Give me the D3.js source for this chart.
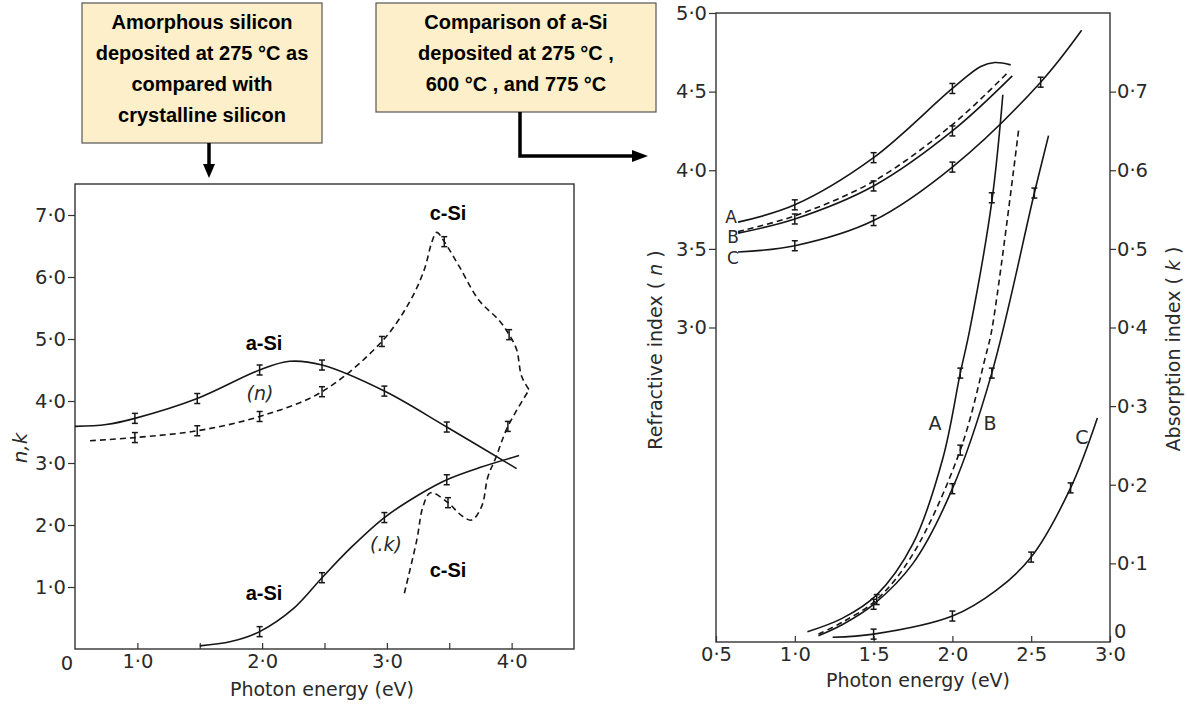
<!DOCTYPE html>
<html>
<head>
<meta charset="utf-8">
<script src="https://cdn.jsdelivr.net/npm/d3@7"></script>
<style>
  body { margin: 0; background: #fff; }
  .tick text { font-family: "DejaVu Sans", sans-serif; font-size: 19.5px; fill: #2a2a2a; }
  .tick line { stroke: #333; stroke-width: 1.2; }
  .lbl { font-family: "Liberation Sans", Arial, sans-serif; font-weight: bold; font-size: 20px; fill: #000; }
  .scan { font-family: "DejaVu Sans", sans-serif; font-size: 19px; fill: #2a2a2a; }
</style>
</head>
<body>
<svg id="fig" width="1187" height="708"></svg>
<script>
// ---- left panel: a-Si (275 C) vs c-Si, n and k ----
const aSiN = [[0.5,3.59],[0.75,3.62],[0.98,3.72],[1.48,4.04],[1.98,4.5],[2.22,4.64],[2.48,4.58],[2.98,4.16],[3.48,3.58],[4.04,2.91]];
const aSiNErr = [[0.98,3.72],[1.48,4.04],[1.98,4.5],[2.48,4.58],[2.98,4.16],[3.48,3.58]];
const cSiN = [[0.62,3.36],[0.98,3.41],[1.48,3.52],[1.98,3.75],[2.48,4.15],[2.96,4.96],[3.18,5.59],[3.3,6.12],[3.36,6.56],[3.4,6.72],[3.46,6.57],[3.58,6.17],[3.74,5.62],[3.9,5.3],[3.98,5.07],[4.04,4.83],[4.08,4.4],[4.14,4.18]];
const cSiNErr = [[0.98,3.41],[1.48,3.52],[1.98,3.75],[2.48,4.15],[2.96,4.96],[3.46,6.57],[3.98,5.07]];
const aSiK = [[1.5,0.05],[1.75,0.12],[1.98,0.28],[2.25,0.65],[2.48,1.15],[2.72,1.65],[2.98,2.12],[3.25,2.48],[3.48,2.73],[3.75,2.93],[4.06,3.12]];
const aSiKErr = [[1.98,0.28],[2.48,1.15],[2.98,2.12],[3.48,2.73]];
const cSiK = [[3.14,0.9],[3.24,1.76],[3.29,2.3],[3.35,2.52],[3.49,2.36],[3.6,2.15],[3.68,2.08],[3.76,2.3],[3.81,2.78],[3.87,3.07],[3.97,3.59],[4.14,4.18]];
const cSiKErr = [[3.49,2.36],[3.97,3.59]];
const leftYTicks = [1,2,3,4,5,6,7];
const leftXTicks = [1,1.5,2,2.5,3,3.5,4];

// ---- right panel: A 275 C, B 600 C, C 775 C (dashed = extra B run) ----
const nA = [[0.64,3.67],[1.0,3.78],[1.5,4.08],[2.0,4.52],[2.18,4.66],[2.27,4.685],[2.37,4.67]];
const nAErr = [[1.0,3.78],[1.5,4.08],[2.0,4.52]];
const nB = [[0.64,3.60],[1.0,3.69],[1.5,3.90],[2.0,4.25],[2.38,4.60]];
const nBErr = [[1.0,3.69],[1.5,3.90],[2.0,4.25]];
const nDash = [[0.64,3.61],[1.0,3.71],[1.5,3.93],[2.0,4.29],[2.36,4.63]];
const nC = [[0.64,3.48],[1.0,3.52],[1.5,3.68],[2.0,4.02],[2.56,4.56],[2.82,4.89]];
const nCErr = [[1.0,3.52],[1.5,3.68],[2.0,4.02],[2.56,4.56]];
const kA = [[1.08,0.013],[1.3,0.03],[1.52,0.06],[1.75,0.125],[1.94,0.234],[2.05,0.342],[2.11,0.397],[2.25,0.56],[2.32,0.696]];
const kAErr = [[2.05,0.342],[2.25,0.565]];
const kDash = [[1.15,0.01],[1.3,0.025],[1.52,0.054],[1.75,0.112],[2.05,0.244],[2.21,0.363],[2.25,0.397],[2.42,0.651]];
const kDashErr = [[1.52,0.054],[2.05,0.244]];
const kB = [[1.15,0.008],[1.3,0.022],[1.5,0.048],[1.75,0.1],[2.0,0.195],[2.25,0.342],[2.52,0.571],[2.61,0.644]];
const kBErr = [[1.5,0.048],[2.0,0.195],[2.25,0.342],[2.52,0.571]];
const kC = [[1.24,0.006],[1.5,0.01],[2.0,0.033],[2.28,0.066],[2.5,0.108],[2.75,0.196],[2.92,0.285]];
const kCErr = [[1.5,0.01],[2.0,0.033],[2.5,0.108],[2.75,0.196]];
const rightXTicks = [0.5,1,1.5,2,2.5,3];
const rightNTicks = [3,3.5,4,4.5,5];
const rightKTicks = [0.1,0.2,0.3,0.4,0.5,0.6,0.7];

const svg = d3.select("#fig");
svg.append("rect").attr("width", 1187).attr("height", 708).attr("fill", "#fff");

const fmt = d => d3.format(".1f")(d).replace(".", "\u00b7");
const ink = "#161616";

function curve(g, data, x, y, dashed) {
  g.append("path")
    .datum(data)
    .attr("fill", "none")
    .attr("stroke", ink)
    .attr("stroke-width", 1.6)
    .attr("stroke-dasharray", dashed ? "6,4" : null)
    .attr("d", d3.line().x(d => x(d[0])).y(d => y(d[1])).curve(d3.curveCatmullRom.alpha(0.5)));
}

function errBars(g, data, x, y) {
  const e = g.append("g").attr("stroke", ink).attr("stroke-width", 1.5);
  data.forEach(d => {
    const cx = x(d[0]), cy = y(d[1]);
    e.append("line").attr("x1", cx).attr("x2", cx).attr("y1", cy - 5).attr("y2", cy + 5);
    e.append("line").attr("x1", cx - 3).attr("x2", cx + 3).attr("y1", cy - 5).attr("y2", cy - 5);
    e.append("line").attr("x1", cx - 3).attr("x2", cx + 3).attr("y1", cy + 5).attr("y2", cy + 5);
  });
}

function frame(g, x, y) {
  const [x0, x1] = x.range(), [y0, y1] = y.range();
  g.append("rect")
    .attr("x", x0).attr("y", y1).attr("width", x1 - x0).attr("height", y0 - y1)
    .attr("fill", "none").attr("stroke", "#333").attr("stroke-width", 1.4);
}

// ================= left panel =================
const xL = d3.scaleLinear([0.5, 4.5], [75, 574]);
const yL = d3.scaleLinear([0, 7.5], [649, 184]);
const gL = svg.append("g");
frame(gL, xL, yL);

gL.append("g").attr("transform", "translate(75,0)")
  .call(d3.axisLeft(yL).tickValues(leftYTicks).tickFormat(fmt).tickSize(7).tickPadding(2))
  .call(a => a.select(".domain").remove());
gL.append("g").attr("transform", "translate(0,649)")
  .call(d3.axisBottom(xL).tickValues(leftXTicks).tickFormat(d => Number.isInteger(d) ? fmt(d) : "").tickSize(-6).tickPadding(5))
  .call(a => a.select(".domain").remove());
gL.append("text").attr("class", "scan").attr("x", 67).attr("y", 670).attr("text-anchor", "middle").style("font-size", "19.5px").text("0");

gL.append("text").attr("class", "scan").attr("x", 322).attr("y", 696).attr("text-anchor", "middle").text("Photon energy (eV)");
gL.append("text").attr("class", "scan").attr("transform", "translate(27,448) rotate(-90)")
  .attr("text-anchor", "middle").style("font-style", "italic").style("font-size", "20px").text("n,k");

curve(gL, aSiN, xL, yL, false);
curve(gL, cSiN, xL, yL, true);
curve(gL, aSiK, xL, yL, false);
curve(gL, cSiK, xL, yL, true);
[aSiNErr, cSiNErr, aSiKErr, cSiKErr].forEach(d => errBars(gL, d, xL, yL));

gL.append("text").attr("class", "scan").attr("x", 260).attr("y", 400).attr("text-anchor", "middle").style("font-style", "italic").text("(n)");
gL.append("text").attr("class", "scan").attr("x", 386).attr("y", 551).attr("text-anchor", "middle").style("font-style", "italic").text("(.k)");
gL.append("text").attr("class", "lbl").attr("x", 264).attr("y", 350).attr("text-anchor", "middle").text("a-Si");
gL.append("text").attr("class", "lbl").attr("x", 448).attr("y", 220).attr("text-anchor", "middle").text("c-Si");
gL.append("text").attr("class", "lbl").attr("x", 448).attr("y", 577).attr("text-anchor", "middle").text("c-Si");
gL.append("text").attr("class", "lbl").attr("x", 264).attr("y", 600).attr("text-anchor", "middle").text("a-Si");

// ================= right panel =================
const xR = d3.scaleLinear([0.5, 3.0], [716, 1110]);
const nR = d3.scaleLinear([1, 5], [642, 13]);
const kR = d3.scaleLinear([0, 0.8], [642, 13]);
const gR = svg.append("g");
frame(gR, xR, kR);

gR.append("g").attr("transform", "translate(716,0)")
  .call(d3.axisLeft(nR).tickValues(rightNTicks).tickFormat(fmt).tickSize(7).tickPadding(2))
  .call(a => a.select(".domain").remove());
gR.append("g").attr("transform", "translate(1110,0)")
  .call(d3.axisRight(kR).tickValues(rightKTicks).tickFormat(fmt).tickSize(6).tickPadding(1))
  .call(a => a.select(".domain").remove());
gR.append("text").attr("class", "scan").attr("x", 1114).attr("y", 638).style("font-size", "19.5px").text("0");
gR.append("g").attr("transform", "translate(0,642)")
  .call(d3.axisBottom(xR).tickValues(rightXTicks).tickFormat(fmt).tickSize(-6).tickPadding(5))
  .call(a => a.select(".domain").remove());

gR.append("text").attr("class", "scan").attr("x", 918).attr("y", 687).attr("text-anchor", "middle").text("Photon energy (eV)");
const tn = gR.append("text").attr("class", "scan").attr("transform", "translate(662,350) rotate(-90)").attr("text-anchor", "middle");
tn.append("tspan").text("Refractive index ( ");
tn.append("tspan").style("font-style", "italic").text("n");
tn.append("tspan").text(" )");
const tk = gR.append("text").attr("class", "scan").attr("transform", "translate(1180,349) rotate(-90)").attr("text-anchor", "middle");
tk.append("tspan").text("Absorption index ( ");
tk.append("tspan").style("font-style", "italic").text("k");
tk.append("tspan").text(" )");

curve(gR, nA, xR, nR, false);
curve(gR, nB, xR, nR, false);
curve(gR, nDash, xR, nR, true);
curve(gR, nC, xR, nR, false);
curve(gR, kA, xR, kR, false);
curve(gR, kDash, xR, kR, true);
curve(gR, kB, xR, kR, false);
curve(gR, kC, xR, kR, false);
[nAErr, nBErr, nCErr].forEach(d => errBars(gR, d, xR, nR));
[kAErr, kDashErr, kBErr, kCErr].forEach(d => errBars(gR, d, xR, kR));

[["A", 731, 223, 17], ["B", 733, 243, 17], ["C", 733, 264, 17], ["A", 935, 430, 19], ["B", 990, 430, 19], ["C", 1082, 444, 19]]
  .forEach(([t, x, y, fs]) => gR.append("text").attr("class", "scan").attr("x", x).attr("y", y)
    .attr("text-anchor", "middle").style("font-size", fs + "px").text(t));

// ================= annotation boxes =================
const boxes = [
  { x: 82, y: 3, w: 240, h: 140, lines: ["Amorphous silicon", "deposited at 275 \u00b0C as", "compared with", "crystalline silicon"], y0: 29 },
  { x: 376, y: 3, w: 280, h: 109, lines: ["Comparison of a-Si", "deposited at 275 \u00b0C ,", "600 \u00b0C , and 775 \u00b0C"], y0: 29 }
];
boxes.forEach(b => {
  svg.append("rect").attr("x", b.x).attr("y", b.y).attr("width", b.w).attr("height", b.h)
    .attr("fill", "#fcefc9").attr("stroke", "#555").attr("stroke-width", 1.2);
  b.lines.forEach((l, i) => svg.append("text").attr("class", "lbl")
    .attr("x", b.x + b.w / 2).attr("y", b.y0 + i * 31).attr("text-anchor", "middle").text(l));
});

const arrows = svg.append("g");
arrows.append("path").attr("d", "M209,143 V166").attr("stroke", "#000").attr("stroke-width", 3.5).attr("fill", "none");
arrows.append("path").attr("d", "M203,164 L215,164 L209,178 Z").attr("fill", "#000");
arrows.append("path").attr("d", "M520,112 V156 H634").attr("stroke", "#000").attr("stroke-width", 3.5).attr("fill", "none");
arrows.append("path").attr("d", "M632,150 L632,162 L648,156 Z").attr("fill", "#000");
</script>
</body>
</html>
